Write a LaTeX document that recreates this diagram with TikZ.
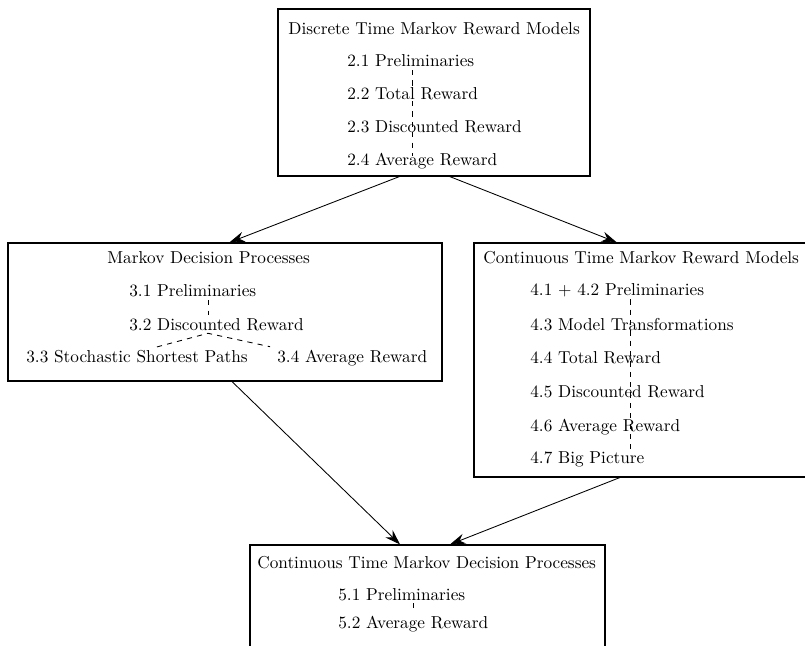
\documentclass[tikz,border=0pt]{standalone}
\usetikzlibrary{arrows.meta,calc,fit}
\begin{document}
\begin{tikzpicture}[x=0.58pt,y=-0.58pt,>={Stealth[length=9pt,width=6pt,inset=3pt]},
  box/.style={draw,line width=.6pt,inner sep=0pt},
  item/.style={anchor=base west,inner xsep=0pt,inner ysep=1.5pt},
  link/.style={dashed,line width=.5pt}]
 \clip (0,0) rectangle (805,646);
 % the four chapters
 \node[box,fit={(278,9) (590,176)}] (dtmrm) {};
 \node[box,fit={(8,243) (442,381)}] (mdp) {};
 \node[box,fit={(474,243) (812,477)}] (ctmrm) {};
 \node[box,fit={(250,545) (605,700)}] (ctmdp) {};
 % chapter 2
 \node[item] (dtitle) at (288,35) {Discrete Time Markov Reward Models};
 \foreach \i/\y/\t in {1/67/Preliminaries,2/100/Total Reward,
   3/133/Discounted Reward,4/166/Average Reward}
   \node[item] (d\i) at (347,\y) {2.\i\ \t};
 \coordinate (dx) at (412,0);
 \draw[link] (d1.south -| dx) -- ([yshift=-3pt]d4.north -| dx);
 % chapter 3
 \node[item] (mtitle) at (107,264) {Markov Decision Processes};
 \node[item] (m1) at (129,297) {3.1 Preliminaries};
 \node[item] (m2) at (129,330) {3.2 Discounted Reward};
 \node[item] (m3) at (26,362) {3.3 Stochastic Shortest Paths};
 \node[item] (m4) at (277,362) {3.4 Average Reward};
 \coordinate (mx) at (208,0);
 \draw[link] (m1.south -| mx) -- (m2.north -| mx);
 \draw[link] ($(m3.north west)!.59!(m3.north east)$) -- (m2.south -| mx)
   -- ([xshift=-4pt]m4.north west);
 % chapter 4
 \node[item] (ctitle) at (483,264) {Continuous Time Markov Reward Models};
 \foreach \i/\y/\t in {1/295/{4.1 $+$ 4.2 Preliminaries},2/330/4.3 Model Transformations,
   3/363/4.4 Total Reward,4/397/4.5 Discounted Reward,
   5/431/4.6 Average Reward,6/463/4.7 Big Picture}
   \node[item] (c\i) at (530,\y) {\t};
 \coordinate (cx) at (630,0);
 \draw[link] (c1.south -| cx) -- ([yshift=-3pt]c6.north -| cx);
 % chapter 5
 \node[item] (ptitle) at (257,568) {Continuous Time Markov Decision Processes};
 \node[item] (p1) at (338,600) {5.1 Preliminaries};
 \node[item] (p2) at (338,628) {5.2 Average Reward};
 \coordinate (px) at (413,0);
 \draw[link] (p1.south -| px) -- (p2.north -| px);
 % dependencies
 \draw[->,line width=.5pt] ($(dtmrm.south west)!.39!(dtmrm.south east)$)
   -- ($(mdp.north west)!.51!(mdp.north east)$);
 \draw[->,line width=.5pt] ($(dtmrm.south west)!.55!(dtmrm.south east)$)
   -- ($(ctmrm.north west)!.423!(ctmrm.north east)$);
 \draw[->,line width=.5pt] ($(mdp.south west)!.516!(mdp.south east)$)
   -- ($(ctmdp.north west)!.423!(ctmdp.north east)$);
 \draw[->,line width=.5pt] ($(ctmrm.south west)!.432!(ctmrm.south east)$)
   -- ($(ctmdp.north west)!.563!(ctmdp.north east)$);
\end{tikzpicture}
\end{document}
